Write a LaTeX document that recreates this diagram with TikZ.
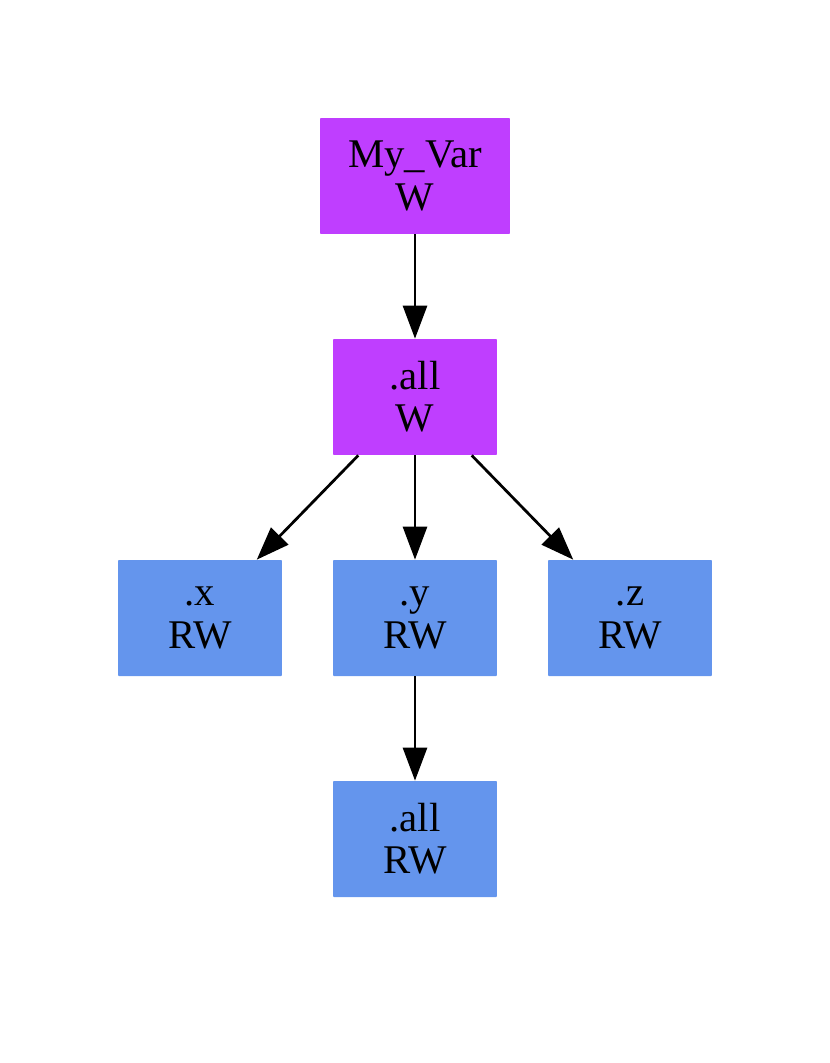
\documentclass[tikz,border=0pt]{standalone}
\usepackage{fontspec}
\setmainfont{Liberation Serif}
\definecolor{gvpurple}{RGB}{191,62,255}
\definecolor{gvblue}{RGB}{100,149,237}
\usetikzlibrary{arrows.meta}

\begin{document}
\begin{tikzpicture}[x=0.02cm,y=-0.02cm,font=\fontsize{23.2}{24}\selectfont,
  wbox/.style={fill=gvpurple,rounded corners=0.5pt,minimum width=3.28cm,minimum height=2.32cm,align=center,inner sep=0pt},
  rwbox/.style={fill=gvblue,rounded corners=0.5pt,minimum width=3.28cm,minimum height=2.32cm,align=center,inner sep=0pt},
  edge/.style={-{Triangle[length=0.66cm,width=0.48cm]},line width=0.055cm,black}]
  \useasboundingbox (0,0) rectangle (830,1063);
  \node[wbox,minimum width=3.8cm] (var) at (415,176) {My\_Var\\W};
  \node[wbox] (all) at (415,397) {.all\\W};
  \node[rwbox] (x) at (200,618) {.x\\RW};
  \node[rwbox] (y) at (415,618) {.y\\RW};
  \node[rwbox] (z) at (630,618) {.z\\RW};
  \node[rwbox] (yall) at (415,839) {.all\\RW};
  \draw[edge] (var) -- (all);
  \draw[edge] (all) -- (x);
  \draw[edge] (all) -- (y);
  \draw[edge] (all) -- (z);
  \draw[edge] (y) -- (yall);
\end{tikzpicture}
\end{document}
